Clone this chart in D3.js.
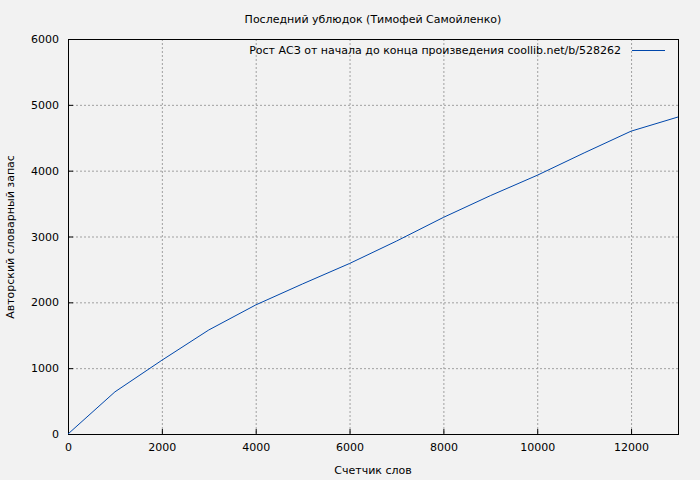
<!DOCTYPE html>
<html><head><meta charset="utf-8">
<script src="https://cdn.jsdelivr.net/npm/d3@7"></script>
<style>body{margin:0;background:#f2f2f2}text{font-family:"DejaVu Sans",sans-serif;font-size:11px;fill:#000}</style>
</head><body><svg id="c" width="700" height="480"></svg>
<script>
// word count (x) vs vocabulary size (y)
var words = [0,1000,2000,3000,4000,5000,6000,7000,8000,9000,10000,11000,12000,13000];
var vocab = [0,640,1120,1580,1960,2280,2590,2930,3290,3620,3930,4270,4600,4815];
var xTicks = [0,2000,4000,6000,8000,10000,12000];
var yTicks = [0,1000,2000,3000,4000,5000,6000];

var svg = d3.select('#c');
var L=68,R=678,T=39,B=434;
var x = d3.scaleLinear().domain([0,13000]).range([L,R]);
var y = d3.scaleLinear().domain([0,6000]).range([B,T]);

svg.append('rect').attr('width',700).attr('height',480).attr('fill','#f2f2f2');

// grid
svg.selectAll('.gx').data(xTicks.slice(1)).enter().append('line')
  .attr('x1',d=>x(d)+.5).attr('x2',d=>x(d)+.5).attr('y1',T).attr('y2',B)
  .attr('stroke','#a0a0a0').attr('stroke-dasharray','2,2');
svg.selectAll('.gy').data(yTicks.slice(1,-1)).enter().append('line')
  .attr('y1',d=>y(d)+.5).attr('y2',d=>y(d)+.5).attr('x1',L).attr('x2',R)
  .attr('stroke','#a0a0a0').attr('stroke-dasharray','2,2');

// axes
var xa = svg.append('g').attr('transform','translate(0,'+B+')')
  .call(d3.axisBottom(x).tickValues(xTicks).tickSize(-5).tickPadding(9).tickFormat(d3.format('d')));
var ya = svg.append('g').attr('transform','translate('+L+',0)')
  .call(d3.axisLeft(y).tickValues(yTicks).tickSize(-5).tickPadding(9).tickFormat(d3.format('d')));
[xa,ya].forEach(function(a){ a.select('.domain').remove(); a.selectAll('line').attr('stroke','#000');
  a.selectAll('text').style('font-family','"DejaVu Sans",sans-serif').style('font-size','11px'); });

svg.append('rect').attr('x',L+.5).attr('y',T+.5).attr('width',R-L).attr('height',B-T)
  .attr('fill','none').attr('stroke','#000');

// line
svg.append('path').datum(words.map((w,i)=>[w,vocab[i]]))
  .attr('d',d3.line().x(d=>x(d[0])).y(d=>y(d[1])))
  .attr('fill','none').attr('stroke','#0047ab').attr('stroke-width',1);

// legend
svg.append('text').attr('x',621).attr('y',54).attr('text-anchor','end')
  .text('Рост АСЗ от начала до конца произведения  coollib.net/b/528262');
svg.append('line').attr('x1',632).attr('x2',665).attr('y1',50.5).attr('y2',50.5).attr('stroke','#0047ab');

// titles
svg.append('text').attr('x',373).attr('y',23).attr('text-anchor','middle').text('Последний ублюдок (Тимофей Самойленко)');
svg.append('text').attr('x',373).attr('y',474).attr('text-anchor','middle').text('Счетчик слов');
svg.append('text').attr('transform','translate(14,237) rotate(-90)').attr('text-anchor','middle').text('Авторский словарный запас');
</script></body></html>
